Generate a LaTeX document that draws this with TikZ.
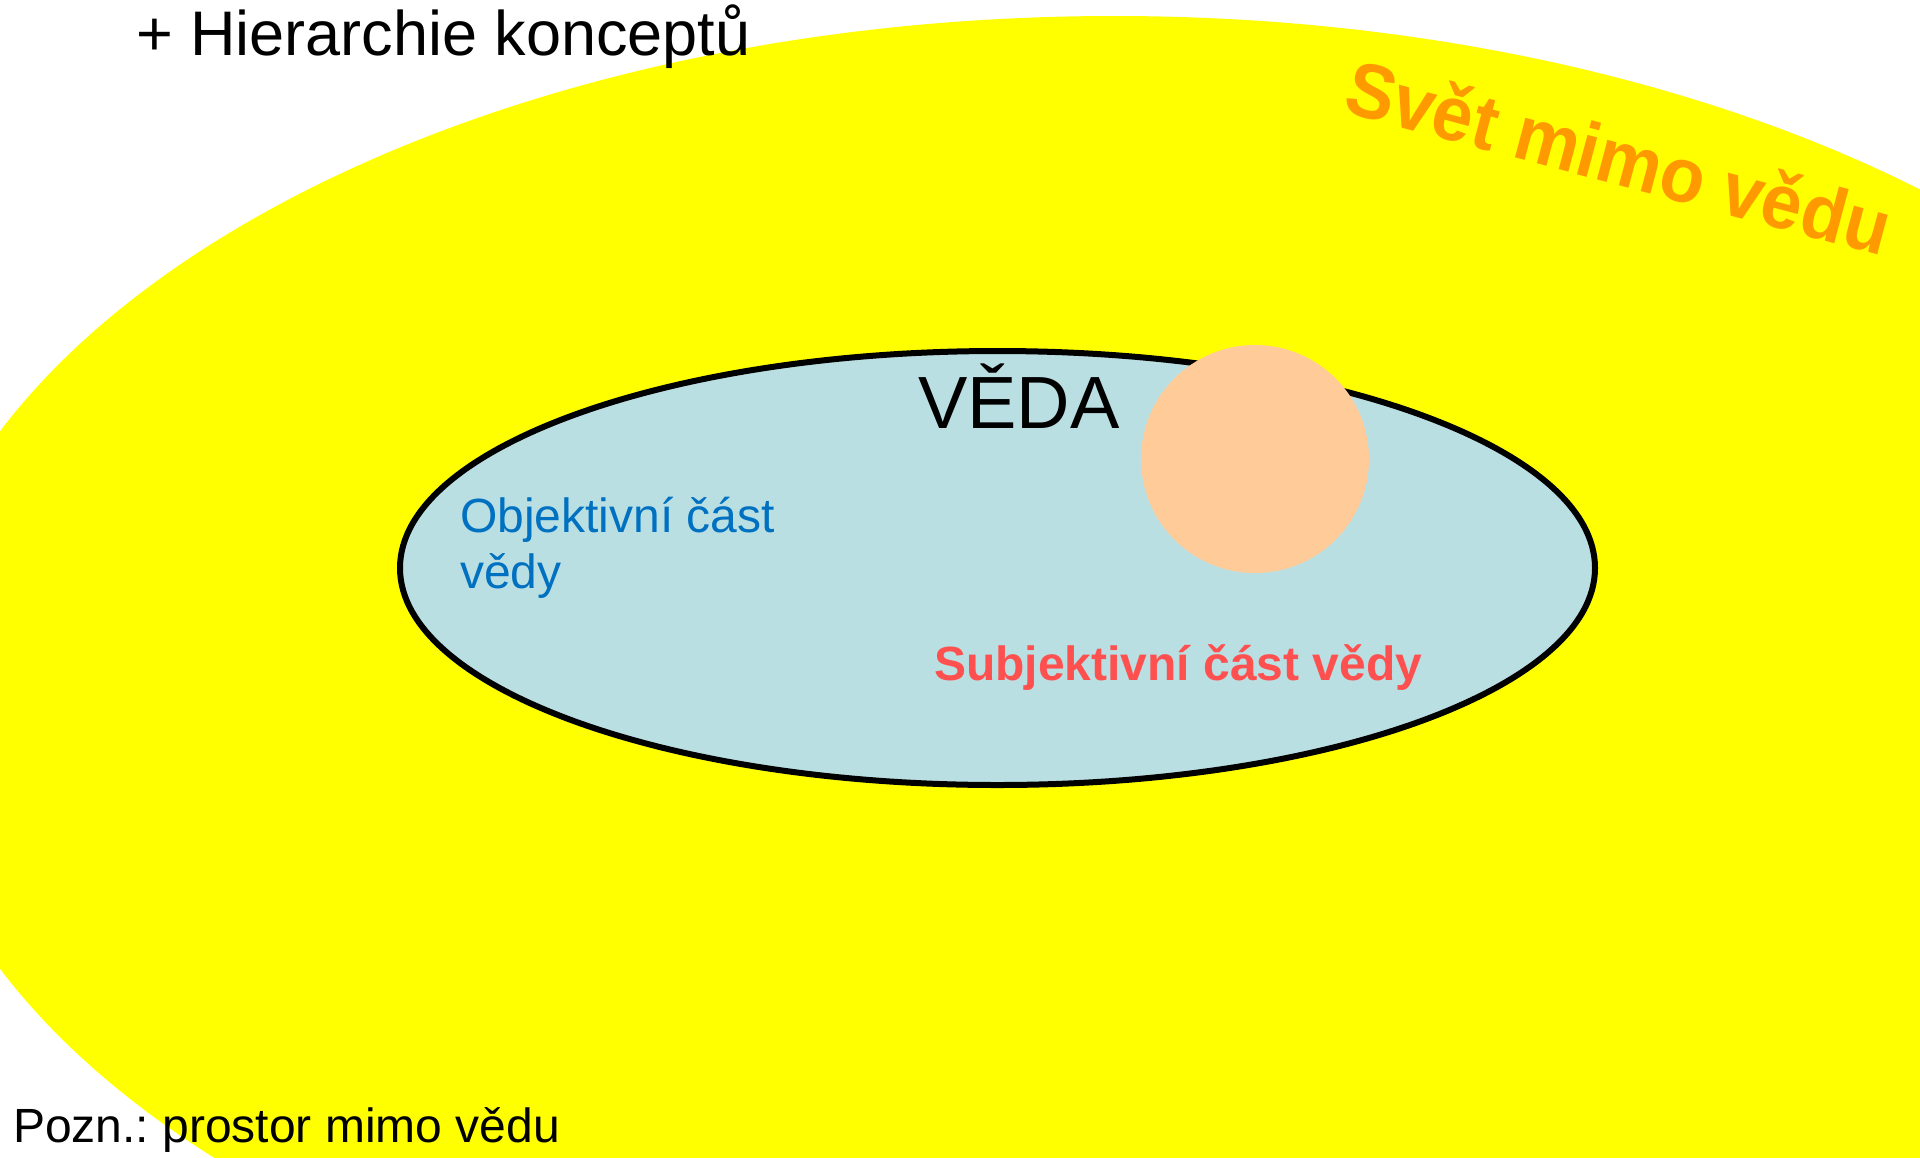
\documentclass[tikz,border=0pt]{standalone}
\usepackage{fontspec}
\setmainfont{Liberation Sans}
\frenchspacing
\definecolor{worldyellow}{RGB}{255,255,0}
\definecolor{sciblue}{RGB}{186,223,227}
\definecolor{peach}{RGB}{255,204,153}
\definecolor{worldorange}{RGB}{255,153,0}
\definecolor{objblue}{RGB}{0,112,192}
\definecolor{subjred}{RGB}{255,80,80}
\begin{document}
\begin{tikzpicture}[x=0.5pt,y=-0.5pt,
  lbl/.style={inner sep=0pt, outer sep=0pt}]
  \useasboundingbox (0,0) rectangle (1920,1157);
  \fill[white] (0,0) rectangle (1920,1157);
  \begin{scope}
    \clip (0,0) rectangle (1920,1157);
    \fill[worldyellow] (1114,700) ellipse [x radius=605.5pt, y radius=342pt];
  \end{scope}
  \coordinate (vedac) at (997.5,568);
  \filldraw[fill=sciblue, draw=black, line width=3pt] (vedac) ellipse [x radius=298.75pt, y radius=108.5pt];
  \fill[peach] (1255,459) circle [radius=57pt];
  \node[lbl, anchor=base west, font=\fontsize{31.5}{36}\selectfont] (title) at (136,55) {+ Hierarchie konceptů};
  \node[lbl, anchor=base, font=\fontsize{36.5}{40}\bfseries\selectfont, text=worldorange, rotate=-15, yscale=1.06] (svet) at (1612,184) {Svět mimo vědu};
  \node[lbl, anchor=base west, font=\fontsize{37}{40}\selectfont] (veda) at (918,428) {VĚDA};
  \node[lbl, anchor=base west, align=left, font=\fontsize{24}{28}\selectfont, text=objblue] (obj) at (460,588) {Objektivní část\\vědy};
  \node[lbl, anchor=base west, font=\fontsize{24}{28}\bfseries\selectfont, text=subjred] (subj) at (934,680) {Subjektivní část vědy};
  \node[lbl, anchor=base west, font=\fontsize{24}{28}\selectfont] (pozn) at (13,1142) {Pozn.: prostor mimo vědu};
\end{tikzpicture}
\end{document}
